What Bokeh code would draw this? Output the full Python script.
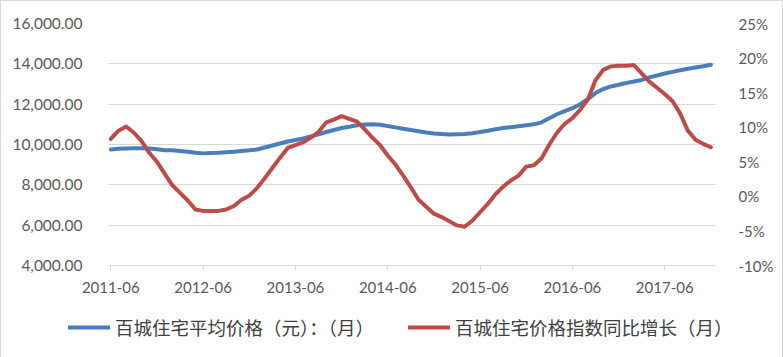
import pandas as pd
from bokeh.plotting import figure
from bokeh.layouts import column
from bokeh.models import (Range1d, LinearAxis, FixedTicker, NumeralTickFormatter,
                          PrintfTickFormatter, Legend, LegendItem, ColumnDataSource)
from bokeh.embed import file_html
from bokeh.resources import INLINE

# ---- data ----
months = [p.strftime("%Y-%m") for p in pd.period_range("2011-06", "2017-12", freq="M")]

avg_price = [
    9750, 9790, 9800, 9810, 9810, 9800, 9760, 9720, 9710, 9680, 9640, 9590,
    9560, 9580, 9590, 9620, 9640, 9680, 9710, 9750, 9850, 9950, 10050, 10150,
    10220, 10300, 10400, 10500, 10620, 10720, 10820, 10880, 10950, 10990, 11010, 10980,
    10920, 10850, 10780, 10720, 10660, 10600, 10550, 10520, 10500, 10510, 10520, 10560,
    10620, 10680, 10760, 10820, 10860, 10900, 10950, 11000, 11100, 11300, 11500, 11650,
    11800, 12000, 12250, 12550, 12750, 12880, 12960, 13050, 13120, 13200, 13330, 13420,
    13520, 13600, 13680, 13760, 13820, 13880, 13950,
]

yoy_growth = [
    8.3, 9.5, 10.1, 9.2, 8.0, 6.3, 5.0, 3.3, 1.6, 0.5, -0.6, -1.9,
    -2.1, -2.1, -2.1, -1.9, -1.4, -0.5, 0.1, 1.2, 2.6, 4.1, 5.6, 7.0,
    7.4, 7.8, 8.5, 9.3, 10.7, 11.1, 11.6, 11.2, 10.8, 9.7, 8.5, 7.4,
    5.9, 4.6, 3.0, 1.3, -0.5, -1.5, -2.5, -3.0, -3.6, -4.2, -4.4, -3.5,
    -2.3, -1.1, 0.3, 1.4, 2.3, 3.0, 4.3, 4.5, 5.5, 7.5, 9.2, 10.5,
    11.3, 12.5, 14.0, 16.8, 18.3, 18.8, 18.9, 18.9, 19.0, 17.8, 16.6, 15.7,
    14.8, 13.8, 12.0, 9.5, 8.2, 7.6, 7.1,
]

tick_labels = ["2011-06", "2012-06", "2013-06", "2014-06", "2015-06", "2016-06", "2017-06"]
left_ticks = [4000, 6000, 8000, 10000, 12000, 14000, 16000]
right_ticks = [-10, -5, 0, 5, 10, 15, 20, 25]

series_names = ["百城住宅平均价格（元）：（月）", "百城住宅价格指数同比增长（月）"]
series_colors = ["#4a7ebb", "#be4b48"]

# ---- main figure ----
idx = list(range(len(months)))
src = ColumnDataSource(dict(x=idx, month=months, price=avg_price, yoy=yoy_growth))

TEXT = "#595959"
GRID = "#d9d9d9"
FONT = "Lato"

p = figure(frame_width=607, frame_height=242,
           x_range=Range1d(-0.3, 78.6), y_range=Range1d(4000, 16000),
           output_backend="svg", toolbar_location=None,
           min_border_left=107, min_border_right=67, min_border_top=22, min_border_bottom=0,
           background_fill_color="white", border_fill_color="white",
           outline_line_color=None)
p.frame_align = False

p.extra_y_ranges = {"pct": Range1d(-10, 25)}

xt = [months.index(t) for t in tick_labels]
p.xaxis.ticker = FixedTicker(ticks=xt)
p.xaxis.major_label_overrides = {i: t for i, t in zip(xt, tick_labels)}
p.xaxis.axis_line_color = GRID
p.xaxis.major_tick_line_color = GRID
p.xaxis.major_tick_out = 5
p.xaxis.major_tick_in = 0
p.xaxis.minor_tick_line_color = None
p.xaxis.major_label_standoff = 11
p.xaxis.major_label_text_font = FONT
p.xaxis.major_label_text_font_size = "15px"
p.xaxis.major_label_text_color = TEXT

p.yaxis.ticker = FixedTicker(ticks=left_ticks)
p.yaxis.formatter = NumeralTickFormatter(format="0,0.00")
p.yaxis.axis_line_color = None
p.yaxis.major_tick_line_color = None
p.yaxis.minor_tick_line_color = None
p.yaxis.major_label_standoff = 20
p.yaxis.major_label_text_font = FONT
p.yaxis.major_label_text_font_size = "15.5px"
p.yaxis.major_label_text_color = TEXT

p.xgrid.grid_line_color = None
p.ygrid.ticker = FixedTicker(ticks=left_ticks)
p.ygrid.grid_line_color = GRID
p.ygrid.grid_line_width = 1

ra = LinearAxis(y_range_name="pct", ticker=FixedTicker(ticks=right_ticks),
                formatter=PrintfTickFormatter(format="%d%%"))
ra.axis_line_color = None
ra.major_tick_line_color = None
ra.minor_tick_line_color = None
ra.major_label_standoff = 17
ra.major_label_text_font = FONT
ra.major_label_text_font_size = "15px"
ra.major_label_text_color = TEXT
p.add_layout(ra, "right")

p.line("x", "price", source=src, line_width=4, line_color=series_colors[0],
       line_cap="round", line_join="round")
p.line("x", "yoy", source=src, y_range_name="pct", line_width=4, line_color=series_colors[1],
       line_cap="round", line_join="round")

# ---- legend strip (key lines use the same data, outside this strip's visible range) ----
lg = figure(width=781, height=63, x_range=Range1d(-2, -1), y_range=Range1d(0, 1),
            x_axis_type=None, y_axis_type=None, output_backend="svg",
            toolbar_location=None, min_border=0, outline_line_color=None,
            background_fill_color="white", border_fill_color="white")
lg.frame_align = False
lg.xgrid.visible = False
lg.ygrid.visible = False
key_renderers = [lg.line("x", col, source=src, line_width=4, line_color=c, line_cap="round")
                 for col, c in zip(["price", "yoy"], series_colors)]
legend = Legend(items=[LegendItem(label=n, renderers=[r])
                       for n, r in zip(series_names, key_renderers)],
                orientation="horizontal", location=(67, 18),
                label_text_font="Noto Sans CJK SC", label_text_font_size="18.5px",
                label_text_color="#404040", glyph_width=42, glyph_height=18,
                label_standoff=5, spacing=34, padding=0, margin=0,
                border_line_color=None, background_fill_alpha=0)
lg.add_layout(legend, "center")

layout = column(p, lg, spacing=0)
layout.styles = {"border": "1px solid #d9d9d9"}

open("out.html", "w").write(file_html(layout, INLINE))
